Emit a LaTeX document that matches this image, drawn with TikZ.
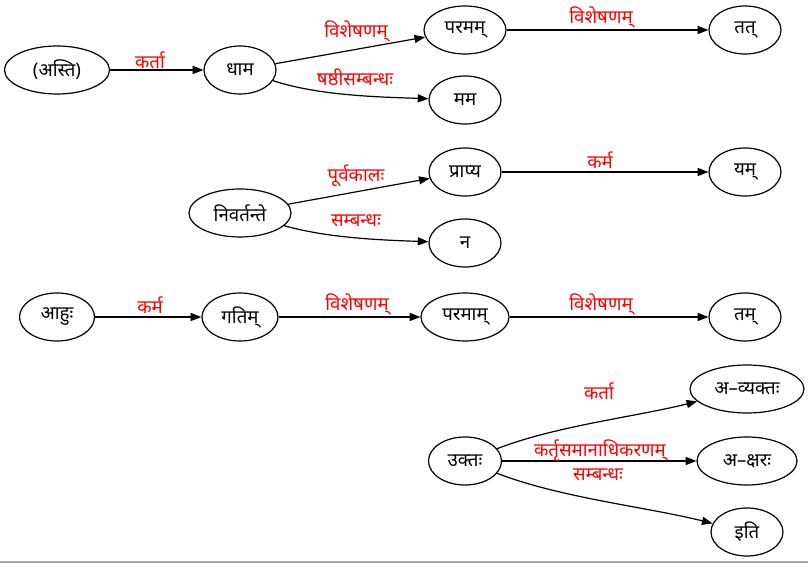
\documentclass[tikz,border=0pt]{standalone}
\usepackage{fontspec}
\newfontfamily\deva[Script=Devanagari]{Noto Sans}
\usetikzlibrary{shapes.geometric,arrows.meta}
\begin{document}
\begin{tikzpicture}[x=0.75pt,y=-0.75pt,
  word/.style={ellipse, draw, line width=0.9pt, minimum height=36pt,
    minimum width=#1*0.75pt, inner sep=0pt,
    font=\deva\fontsize{14}{16}\selectfont},
  word/.default=72,
  rel/.style={text=red, inner sep=0pt, font=\deva\fontsize{14}{16}\selectfont},
  dep/.style={line width=0.9pt, -{Triangle[length=8pt,width=6pt]}}]
\useasboundingbox (0,0) rectangle (808,563);

% sentence 1
\node[word=105] (asti)    at (57,70)  {(अस्ति)};
\node[word]     (dhama)   at (240,70) {धाम};
\node[word=82]  (paramam) at (465,30) {परमम्};
\node[word]     (mama)    at (465,100) {मम};
\node[word]     (tat)     at (745,30) {तत्};

% sentence 2
\node[word=102] (nivartante) at (240,213) {निवर्तन्ते};
\node[word]     (prapya)     at (465,172) {प्राप्य};
\node[word]     (na)         at (465,243) {न};
\node[word]     (yam)        at (745,172) {यम्};

% sentence 3
\node[word=75] (ahuh)    at (57,317)  {आहुः};
\node[word=76] (gatim)   at (240,317) {गतिम्};
\node[word=88] (paramam2) at (465,317) {परमाम्};
\node[word]    (tam)     at (745,317) {तम्};

% sentence 4
\node[word=73]  (uktah)     at (465,461) {उक्तः};
\node[word=114] (avyaktah)  at (747,389) {अ–व्यक्तः};
\node[word=100] (aksharah)  at (747,461) {अ–क्षरः};
\node[word]     (iti)       at (747,532) {इति};

% dependencies
\draw[dep] (asti) -- (dhama);
\draw[dep] (dhama) -- (paramam);
\draw[dep] (dhama) to[out=-18,in=178,looseness=0.8] (mama);
\draw[dep] (paramam) -- (tat);

\draw[dep] (nivartante) -- (prapya);
\draw[dep] (nivartante) to[out=-16,in=178,looseness=0.8] (na);
\draw[dep] (prapya) -- (yam);

\draw[dep] (ahuh) -- (gatim);
\draw[dep] (gatim) -- (paramam2);
\draw[dep] (paramam2) -- (tam);

\draw[dep] (uktah) to[out=21,in=194,looseness=0.8] (avyaktah);
\draw[dep] (uktah) -- (aksharah);
\draw[dep] (uktah) to[out=-21,in=166,looseness=0.8] (iti);

% relation labels
\node[rel] (r1)  at (150,60)  {कर्ता};
\node[rel] (r2)  at (356,31)  {विशेषणम्};
\node[rel] (r3)  at (355,77)  {षष्ठीसम्बन्धः};
\node[rel] (r4)  at (601,17)  {विशेषणम्};
\node[rel] (r5)  at (356,176) {पूर्वकालः};
\node[rel] (r6)  at (356,221) {सम्बन्धः};
\node[rel] (r7)  at (600,160) {कर्म};
\node[rel] (r8)  at (150,305) {कर्म};
\node[rel] (r9)  at (357,304) {विशेषणम्};
\node[rel] (r10) at (601,304) {विशेषणम्};
\node[rel] (r11) at (599,391) {कर्ता};
\node[rel] (r12) at (600,451) {कर्तृसमानाधिकरणम्};
\node[rel] (r13) at (598,475) {सम्बन्धः};

% rule along the bottom edge
\draw[black!35, line width=1.2pt] (0,562) -- (808,562);
\end{tikzpicture}
\end{document}
